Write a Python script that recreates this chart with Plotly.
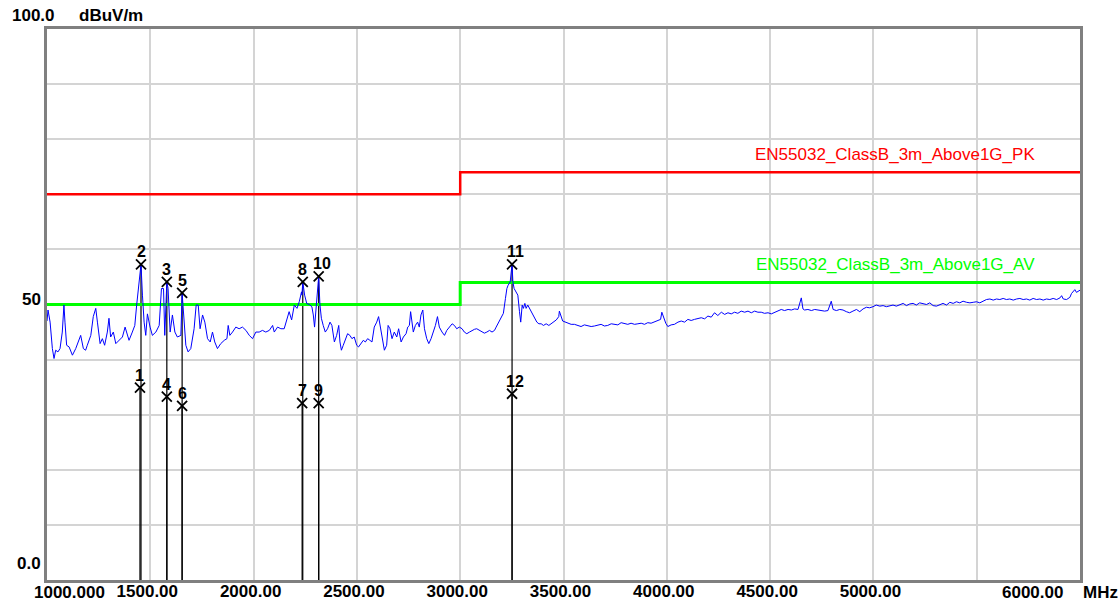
import plotly.graph_objects as go

# ---- measured spectrum (MHz, dBuV/m) ----
freq_mhz = [
    1000, 1005, 1015, 1026, 1034, 1042, 1053, 1063, 1074, 1082,
    1087, 1095, 1107, 1123, 1139, 1147, 1163, 1176, 1187, 1195,
    1212, 1224, 1236, 1244, 1257, 1268, 1279, 1292, 1300, 1308,
    1321, 1333, 1349, 1365, 1378, 1386, 1397, 1413, 1425, 1434,
    1443, 1451, 1455, 1462, 1470, 1478, 1486, 1499, 1510, 1527,
    1543, 1554, 1564, 1570, 1577, 1580, 1586, 1596, 1607, 1619,
    1631, 1648, 1654, 1661, 1672, 1683, 1696, 1712, 1722, 1732,
    1741, 1753, 1764, 1777, 1790, 1801, 1812, 1825, 1841, 1858,
    1871, 1877, 1885, 1898, 1914, 1930, 1946, 1963, 1979, 1995,
    2011, 2027, 2043, 2059, 2076, 2092, 2100, 2116, 2132, 2148,
    2161, 2172, 2184, 2197, 2210, 2221, 2232,
    2234, 2238, 2247, 2257, 2269, 2282, 2289, 2295, 2302, 2310,
    2315, 2321, 2328, 2337, 2347, 2358, 2370, 2379, 2391, 2402,
    2412, 2418, 2425, 2434, 2444, 2455, 2466, 2476, 2487, 2499,
    2508, 2520, 2531, 2541, 2552, 2563, 2573, 2584, 2596, 2605,
    2613, 2622, 2633, 2644, 2651, 2660, 2670, 2681, 2693, 2702,
    2714, 2725, 2738, 2746, 2754, 2760, 2767, 2773, 2783, 2794,
    2802, 2810, 2819, 2827, 2838, 2848, 2859, 2870, 2880, 2890,
    2899, 2912, 2924, 2935, 2948, 2961, 2972, 2983, 2996, 3009,
    3020, 3032, 3045, 3058, 3069, 3080, 3093, 3106, 3117, 3129,
    3142, 3154, 3166, 3174, 3182, 3190, 3198, 3209, 3219, 3226,
    3232, 3242, 3251, 3255, 3261, 3271, 3279, 3287, 3293, 3300,
    3306, 3313, 3319, 3327, 3335, 3343, 3352, 3360, 3371, 3381,
    3392, 3403, 3416, 3429, 3440, 3452, 3465, 3477,
    3480, 3496, 3521, 3537, 3553, 3569, 3585, 3601, 3617, 3634,
    3650, 3666, 3682, 3698, 3714, 3731, 3747, 3763, 3779, 3795,
    3811, 3827, 3844, 3860, 3876, 3892, 3908, 3924, 3940, 3957,
    3970, 3976, 3986, 3995, 4005, 4021, 4037, 4054, 4070, 4086,
    4102, 4118, 4134, 4150, 4167, 4183, 4199, 4215, 4231, 4247,
    4264, 4280, 4296, 4312, 4328, 4344, 4360, 4377, 4393, 4409,
    4425, 4441, 4457, 4473, 4490, 4506, 4522, 4538, 4554, 4570,
    4587, 4603, 4619, 4635, 4651, 4659, 4667, 4683, 4700, 4716,
    4732, 4748, 4764, 4780, 4796, 4805, 4821, 4837, 4853, 4869,
    4885, 4901, 4918, 4934, 4950, 4966, 4982, 4998, 5014, 5031,
    5047, 5063, 5079, 5095, 5111, 5128, 5144, 5160, 5176, 5192,
    5208, 5224, 5241, 5257, 5273, 5289, 5305, 5321, 5337, 5354,
    5370, 5386, 5402, 5418, 5434, 5451, 5467, 5483, 5499, 5515,
    5531, 5547, 5564, 5580, 5596, 5612, 5628, 5644, 5660, 5677,
    5693, 5709, 5725, 5741, 5757, 5773, 5790, 5806, 5822, 5838,
    5854, 5870, 5887, 5903, 5911, 5919, 5935, 5951, 5959, 5967,
    5975, 5983, 6000,
]
level_dbuv = [
    47.0, 49.0, 46.8, 42.0, 40.2, 41.7, 41.4, 42.0, 45.0, 49.9,
    46.8, 42.6, 42.3, 40.8, 42.0, 42.9, 44.4, 42.0, 41.7, 42.6,
    44.4, 47.8, 49.3, 46.8, 42.9, 43.8, 42.6, 45.0, 47.5, 44.1,
    45.0, 42.9, 43.5, 44.1, 45.9, 45.0, 43.5, 45.0, 46.2, 49.9,
    53.5, 56.5, 57.3, 51.7, 46.8, 44.4, 48.3, 45.9, 44.4, 45.0,
    46.2, 52.9, 52.9, 44.4, 53.5, 54.1, 52.9, 45.0, 48.1, 45.0,
    44.1, 44.4, 52.1, 48.1, 42.6, 41.4, 42.0, 45.6, 49.9, 49.9,
    45.6, 48.1, 46.8, 43.8, 43.2, 45.0, 43.2, 42.0, 42.9, 43.5,
    43.8, 46.2, 44.4, 45.0, 45.9, 45.6, 45.9, 45.3, 44.4, 43.8,
    45.0, 45.0, 45.3, 45.0, 45.3, 46.2, 45.0, 45.9, 45.6, 45.6,
    47.5, 48.7, 47.2, 49.9, 49.3, 50.5, 52.3,
    51.7, 54.1, 51.7, 50.2, 50.0, 49.6, 48.1, 45.9, 48.7, 52.3,
    55.1, 50.0, 47.5, 46.2, 45.0, 45.6, 46.8, 46.2, 43.2, 44.4,
    46.2, 43.2, 41.7, 42.6, 43.8, 44.7, 44.4, 43.8, 44.1, 42.6,
    42.3, 42.9, 43.5, 43.2, 43.8, 43.5, 43.2, 45.9, 46.8, 47.8,
    46.2, 43.8, 41.7, 42.6, 46.2, 45.6, 43.8, 45.0, 44.1, 45.6,
    43.2, 44.1, 44.7, 45.9, 46.2, 48.7, 46.8, 45.0, 46.2, 46.8,
    45.9, 48.1, 49.0, 45.6, 43.8, 42.9, 43.8, 45.0, 46.2, 47.8,
    45.9, 45.0, 44.4, 45.3, 45.9, 46.5, 46.2, 45.6, 45.9, 45.6,
    45.0, 44.7, 45.0, 45.3, 45.5, 45.6, 45.3, 45.0, 44.8, 45.0,
    45.3, 45.0, 45.3, 45.9, 46.5, 46.8, 47.5, 48.4, 51.1, 52.9,
    53.5, 54.1, 57.3, 54.1, 52.9, 52.3, 51.7, 48.7, 46.8, 49.9,
    49.3, 50.2, 49.3, 49.9, 49.3, 48.7, 48.1, 47.5, 46.8, 46.5,
    46.5, 46.2, 46.5, 46.2, 46.5, 46.8, 47.2, 47.8,
    48.8, 47.0, 46.7, 46.4, 46.4, 46.2, 46.0, 46.3, 46.2, 46.0,
    46.1, 46.3, 46.4, 46.1, 46.2, 46.5, 46.4, 46.3, 46.7, 46.5,
    46.4, 46.6, 46.4, 46.5, 46.6, 46.4, 46.7, 46.6, 46.8, 47.0,
    47.3, 48.6, 47.3, 46.6, 46.0, 46.3, 46.4, 46.8, 47.0, 46.8,
    47.3, 47.1, 47.3, 47.5, 47.6, 47.4, 47.9, 47.7, 48.5, 48.0,
    48.6, 48.2, 48.5, 48.3, 48.6, 48.4, 48.8, 48.6, 48.8, 48.5,
    48.8, 48.6, 48.6, 48.4, 48.5, 48.3, 48.6, 48.8, 49.1, 48.9,
    49.1, 49.0, 49.2, 49.1, 51.2, 49.2, 49.0, 49.1, 48.9, 49.1,
    49.0, 49.0, 48.8, 48.9, 50.6, 49.1, 48.9, 49.1, 49.0, 48.7,
    48.5, 48.8, 49.1, 48.7, 49.2, 49.5, 49.4, 49.6, 49.9, 49.7,
    49.8, 49.6, 49.8, 49.9, 49.7, 50.0, 50.2, 49.8, 50.1, 50.2,
    49.9, 50.3, 50.2, 50.0, 50.3, 49.8, 49.7, 50.0, 50.2, 49.9,
    50.4, 50.2, 50.5, 50.3, 50.6, 50.4, 50.3, 50.4, 50.5, 50.3,
    50.6, 50.9, 51.0, 50.8, 51.0, 50.9, 51.1, 50.9, 51.0, 50.8,
    51.0, 51.1, 50.9, 51.0, 50.8, 51.1, 50.9, 51.0, 50.8, 51.0,
    50.9, 51.1, 50.9, 51.2, 51.6, 51.0, 50.9, 51.3, 52.0, 52.4,
    52.7, 52.2, 52.6,
]

# ---- EN55032 Class B, 3 m, above 1 GHz limits ----
limit_freq = [1000, 3000, 6000]
limit_pk = [70, 74, 74]
limit_av = [50, 54, 54]
limit_pk_name = "EN55032_ClassB_3m_Above1G_PK"
limit_av_name = "EN55032_ClassB_3m_Above1G_AV"

# ---- marker readings ----
marker_no = [1, 2, 3, 4, 5, 6, 7, 8, 9, 10, 11, 12]
marker_freq = [1450, 1455, 1580, 1580, 1654, 1654, 2235, 2238, 2315, 2315, 3251, 3251]
marker_level = [34.9, 57.3, 54.1, 33.3, 52.1, 31.6, 32.1, 54.1, 32.1, 55.1, 57.3, 33.8]

# ---- axis labels ----
x_ticks = [1000, 1500, 2000, 2500, 3000, 3500, 4000, 4500, 5000, 5500, 6000]
x_tick_text = ["", "1500.00", "2000.00", "2500.00", "3000.00", "3500.00",
               "4000.00", "4500.00", "5000.00", "", ""]

BOLD = dict(family="Liberation Sans", size=17, color="black", weight="bold")
FRAME = "#808080"
GRID = "#d4d4d4"

fig = go.Figure()

# vertical stems from each marker down to the axis
stem_x, stem_y = [], []
for f, v in zip(marker_freq, marker_level):
    stem_x += [f, f, None]
    stem_y += [0, v, None]
fig.add_trace(go.Scatter(x=stem_x, y=stem_y, mode="lines",
                         line=dict(color="black", width=1.2), hoverinfo="skip"))

# limit lines
fig.add_trace(go.Scatter(x=limit_freq, y=limit_pk, mode="lines", name=limit_pk_name,
                         line=dict(color="#ff0000", width=2.5, shape="hv")))
fig.add_trace(go.Scatter(x=limit_freq, y=limit_av, mode="lines", name=limit_av_name,
                         line=dict(color="#00ff00", width=3, shape="hv")))

# spectrum trace
fig.add_trace(go.Scatter(x=freq_mhz, y=level_dbuv, mode="lines",
                         line=dict(color="#0000ff", width=1)))

# marker crosses
fig.add_trace(go.Scatter(x=marker_freq, y=marker_level, mode="markers",
                         marker=dict(symbol="x-thin", size=10, color="black",
                                     line=dict(color="black", width=1.8))))

ann = []
for n, f, v in zip(marker_no, marker_freq, marker_level):
    ann.append(dict(x=f, y=v, xref="x", yref="y", text=str(n), showarrow=False,
                    yanchor="bottom", yshift=2, xshift=3 if n >= 10 else 0,
                    font=dict(family="Liberation Sans", size=16, color="black", weight="bold")))

# limit names above the upper segments
ann.append(dict(x=5106, y=limit_pk[-1], xref="x", yref="y", text=limit_pk_name,
                showarrow=False, yanchor="middle", yshift=18,
                font=dict(family="Liberation Sans", size=17, color="#ff0000")))
ann.append(dict(x=5106, y=limit_av[-1], xref="x", yref="y", text=limit_av_name,
                showarrow=False, yanchor="middle", yshift=18,
                font=dict(family="Liberation Sans", size=17, color="#00ff00")))

# y-axis scale labels and unit
ann += [
    dict(x=0, y=1, xref="paper", yref="paper", text="100.0", showarrow=False,
         xanchor="left", yanchor="middle", xshift=-37, yshift=14, font=BOLD),
    dict(x=0, y=1, xref="paper", yref="paper", text="dBuV/m", showarrow=False,
         xanchor="left", yanchor="middle", xshift=30, yshift=14, font=BOLD),
    dict(x=0, y=50, xref="paper", yref="y", text="50", showarrow=False,
         xanchor="right", yanchor="middle", xshift=-4, yshift=5, font=BOLD),
    dict(x=0, y=0, xref="paper", yref="y", text="0.0", showarrow=False,
         xanchor="right", yanchor="middle", xshift=-4, yshift=17, font=BOLD),
]
# x-axis end labels and unit
ann += [
    dict(x=1000, y=0, xref="x", yref="paper", text="1000.000", showarrow=False,
         xanchor="left", yanchor="middle", xshift=-15, yshift=-12, font=BOLD),
    dict(x=6000, y=0, xref="x", yref="paper", text="6000.00", showarrow=False,
         xanchor="right", yanchor="middle", xshift=-15, yshift=-12, font=BOLD),
    dict(x=6000, y=0, xref="x", yref="paper", text="MHz", showarrow=False,
         xanchor="left", yanchor="middle", xshift=1, yshift=-12, font=BOLD),
]

fig.update_layout(
    width=1118, height=603,
    margin=dict(l=47, r=38, t=29, b=23, autoexpand=False),
    paper_bgcolor="white", plot_bgcolor="white",
    showlegend=False,
    annotations=ann,
    xaxis=dict(range=[1000, 6000], tickvals=x_ticks, ticktext=x_tick_text,
               showgrid=True, gridcolor=GRID, gridwidth=1.5, zeroline=False,
               showline=True, linecolor=FRAME, linewidth=2.5, mirror=True,
               ticks="", tickfont=BOLD, ticklabelshift=-3, ticklabelstandoff=-6,
               automargin=False),
    yaxis=dict(range=[0, 100], tick0=0, dtick=10, showticklabels=False,
               showgrid=True, gridcolor=GRID, gridwidth=1.5, zeroline=False,
               showline=True, linecolor=FRAME, linewidth=2.5, mirror=True, ticks="",
               automargin=False),
)

fig.write_html("out.html")
